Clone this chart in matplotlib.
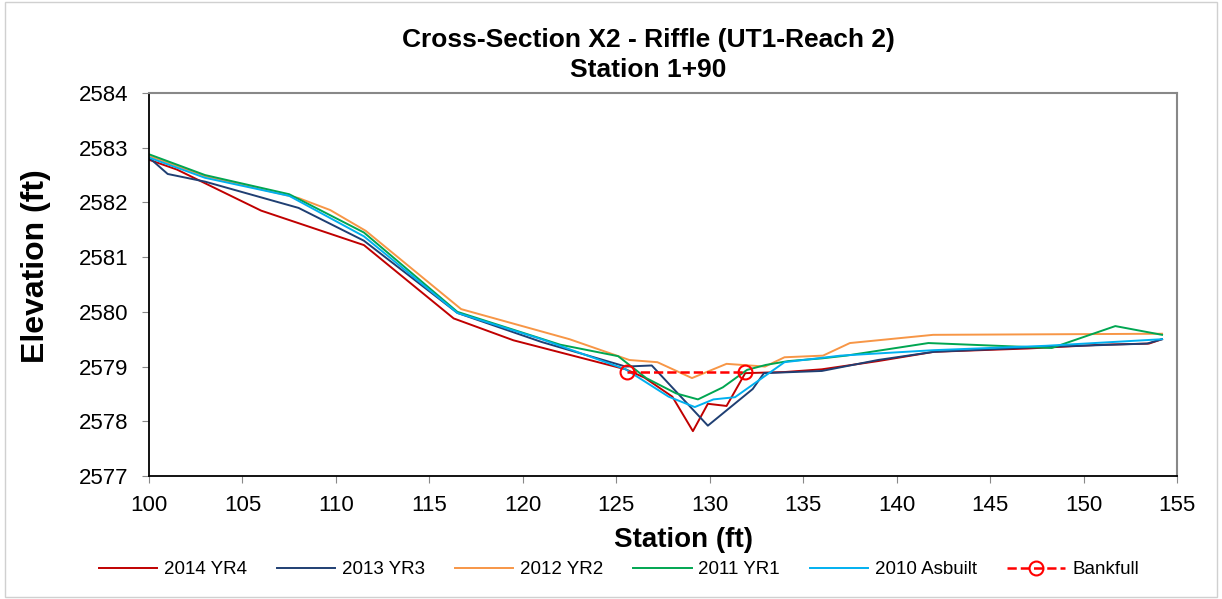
import matplotlib
matplotlib.use("Agg")
import matplotlib.pyplot as plt
from matplotlib.patches import Rectangle

plt.rcParams['font.family'] = ['Liberation Sans', 'DejaVu Sans']

# Survey data (station ft, elevation ft)
x_2014 = [100, 101.5, 106, 111.5, 116.3, 119.5, 125.5, 126.5, 128, 129.1, 129.9, 130.9, 131.9, 134, 136, 139, 142, 147, 151, 153.5, 154.2]
y_2014 = [2582.78, 2582.6, 2581.85, 2581.22, 2579.88, 2579.48, 2578.95, 2578.8, 2578.45, 2577.82, 2578.32, 2578.28, 2578.88,
          2578.9, 2578.95, 2579.1, 2579.27, 2579.33, 2579.4, 2579.42, 2579.5]

x_2013 = [100, 101, 103, 108, 111.5, 116.5, 121, 125.5, 126.9, 129.9, 132.3, 132.9, 136, 139, 142, 148, 153.4, 154.2]
y_2013 = [2582.82, 2582.52, 2582.38, 2581.9, 2581.3, 2579.98, 2579.45, 2579.0, 2579.02, 2577.92, 2578.59, 2578.88,
          2578.92, 2579.12, 2579.27, 2579.36, 2579.42, 2579.5]

x_2012 = [100, 103, 108, 109.7, 111.6, 116.7, 122.5, 125.7, 127.2, 129.05, 130.9, 132.96, 134.0, 136.06, 137.5, 141.95, 154.2]
y_2012 = [2582.85, 2582.48, 2582.08, 2581.86, 2581.48, 2580.05, 2579.5, 2579.12, 2579.08, 2578.79, 2579.05, 2579.0,
          2579.17, 2579.2, 2579.43, 2579.58, 2579.6]

x_2011 = [100, 103, 107.5, 111.5, 116.5, 122, 125.1, 126.6, 128.2, 129.37, 130.7, 132.0, 133, 134.2, 136, 137.3, 141.7, 148.3, 151.7, 154.2]
y_2011 = [2582.88, 2582.5, 2582.15, 2581.45, 2580.0, 2579.4, 2579.19, 2578.79, 2578.51, 2578.4, 2578.62, 2578.94,
          2579.03, 2579.1, 2579.15, 2579.2, 2579.43, 2579.34, 2579.74, 2579.58]

x_2010 = [100, 103, 107.5, 111.5, 116.5, 121, 125.5, 127.8, 129.2, 130.2, 131.35, 134.0, 137, 142, 148, 154.2]
y_2010 = [2582.82, 2582.45, 2582.12, 2581.38, 2579.98, 2579.5, 2578.95, 2578.45, 2578.26, 2578.4, 2578.44, 2579.08,
          2579.2, 2579.3, 2579.38, 2579.5]

x_bkf = [125.6, 131.9]
y_bkf = [2578.9, 2578.9]

W, H = 1222, 599
fig = plt.figure(figsize=(W / 100, H / 100), dpi=100)
ax = fig.add_axes([149 / W, 1 - 476 / H, (1177 - 149) / W, (476 - 93) / H])

ax.plot(x_2014, y_2014, color='#C00000', lw=1.4, label='2014 YR4')
ax.plot(x_2013, y_2013, color='#1F3F73', lw=1.4, label='2013 YR3')
ax.plot(x_2012, y_2012, color='#F79646', lw=1.4, label='2012 YR2')
ax.plot(x_2011, y_2011, color='#00A651', lw=1.4, label='2011 YR1')
ax.plot(x_2010, y_2010, color='#00B0F0', lw=1.4, label='2010 Asbuilt')
ax.plot(x_bkf, y_bkf, color='#FF0000', lw=1.8, ls='--', marker='o', markersize=10,
        markerfacecolor='none', markeredgewidth=1.5, label='Bankfull')

ax.set_xlim(100, 155)
ax.set_ylim(2577, 2584)
ax.set_xticks(range(100, 156, 5))
ax.set_yticks(range(2577, 2585))
ax.tick_params(direction='out', length=5, color='#888888', labelsize=16)
ax.tick_params(axis='x', pad=9)
ax.tick_params(axis='y', pad=10)

for s in ['top', 'right']:
    ax.spines[s].set_color('#888888')
    ax.spines[s].set_linewidth(1.5)
for s in ['left', 'bottom']:
    ax.spines[s].set_color('black')
    ax.spines[s].set_linewidth(1.3)

# title and axis labels placed in figure pixels
fig.text(648 / W, 1 - 55 / H, 'Cross-Section X2 - Riffle (UT1-Reach 2)\nStation 1+90', fontsize=19,
         fontweight='bold', ha='center', va='center', linespacing=1.32)
fig.text(683 / W, 1 - 540 / H, 'Station (ft)', fontsize=20, fontweight='bold', ha='center', va='center')
fig.text(36 / W, 1 - 266 / H, 'Elevation (ft)', fontsize=23, fontweight='bold', ha='center', va='center',
         rotation=90)

ax.legend(loc='center', bbox_to_anchor=(0.5 - 44 / 1028, -0.245), ncol=6, frameon=False,
          fontsize=13.5, handlelength=3.1, columnspacing=1.6, handletextpad=0.37)

# outer chart border
fig.patches.append(Rectangle((5 / W, 2 / H), 1 - 10 / W, 1 - 4 / H, transform=fig.transFigure,
                             fill=False, edgecolor='#D0D0D0', lw=1))

plt.savefig('out.png', dpi=100)
